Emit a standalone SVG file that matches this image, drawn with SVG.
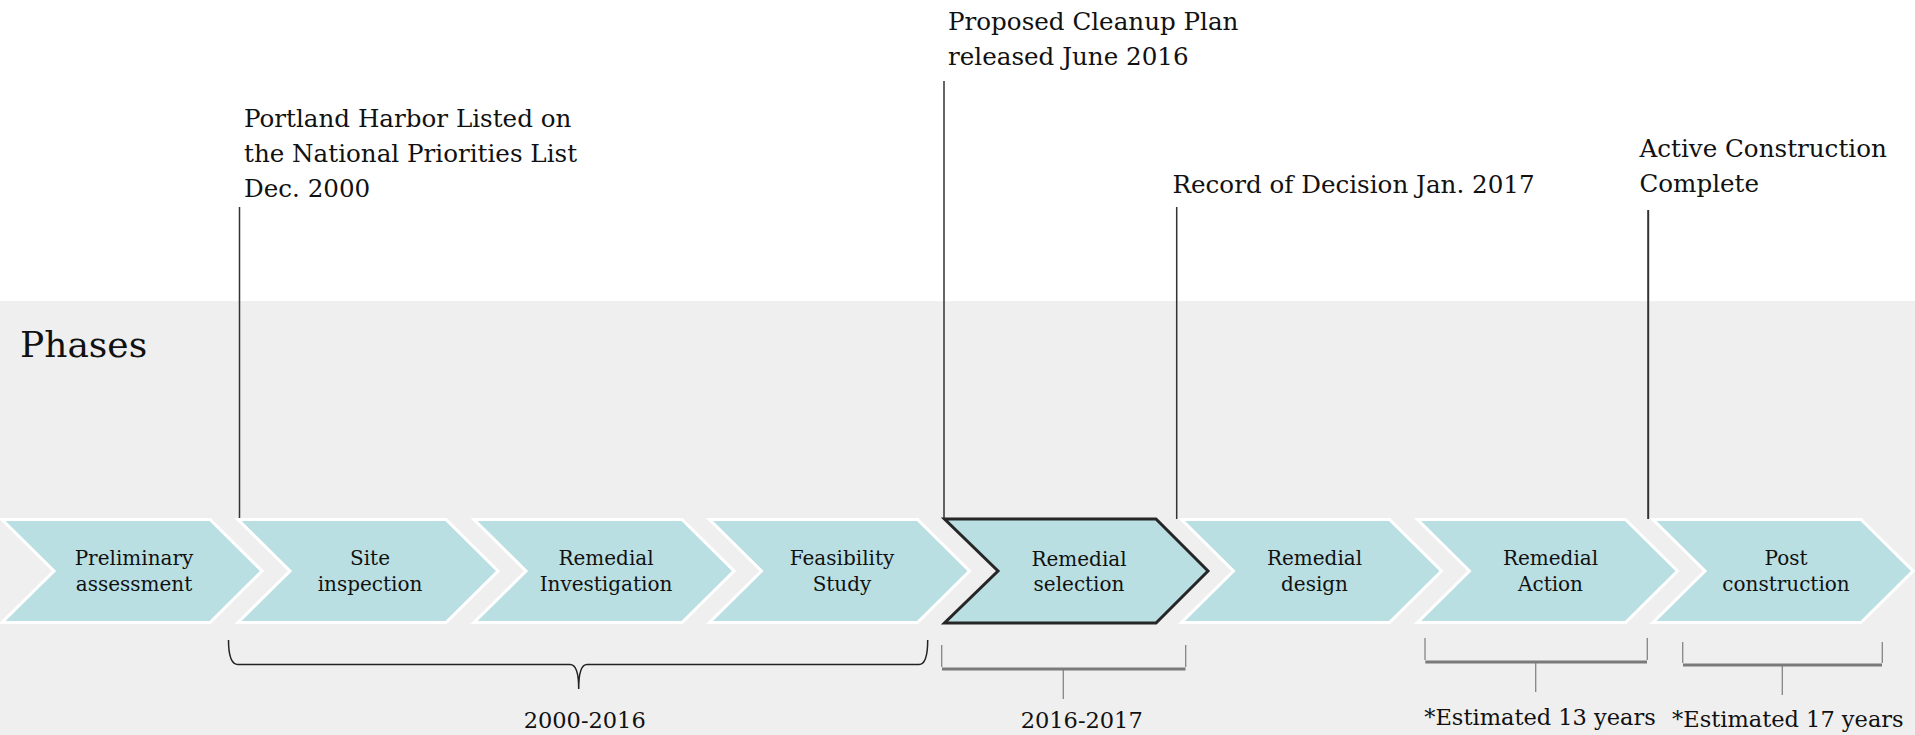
<svg xmlns="http://www.w3.org/2000/svg" width="1915" height="735" viewBox="0 0 1915 735">
<style>
.lbl{font-family:"DejaVu Serif","Liberation Serif",serif;fill:#111;}
.top{font-size:24.6px;}
.chev{fill:#b9dfe2;stroke:#ffffff;stroke-width:3;stroke-linejoin:miter;}
.sel{fill:#b9dfe2;stroke:#262626;stroke-width:3;stroke-linejoin:miter;}
.ct{font-size:20px;text-anchor:middle;}
.bt{font-size:22.5px;text-anchor:middle;}
.mark{stroke:#333;stroke-width:1.5;fill:none;}
.brace{stroke:#222;stroke-width:1.5;fill:none;}
.gb{stroke:#858585;stroke-width:1.3;fill:none;}
.gbh{stroke:#7a7a7a;stroke-width:3;fill:none;}
</style>
<rect x="0" y="0" width="1915" height="735" fill="#ffffff"/>
<rect x="0" y="301" width="1915" height="434" fill="#efefef"/>
<text class="lbl" x="20" y="357" font-size="36">Phases</text>

<g id="connectors">
<line class="mark" x1="239.5" y1="207" x2="239.5" y2="519"/>
<line class="mark" x1="944" y1="81" x2="944" y2="519"/>
<line class="mark" x1="1176.7" y1="207" x2="1176.7" y2="519"/>
<line class="mark" x1="1648.2" y1="210" x2="1648.2" y2="519" style="stroke-width:2"/>
<path class="brace" d="M228.5,640 Q228.5,664.5 238,664.5 L570,664.5 Q578.7,664.5 578.7,689 Q578.7,664.5 587,664.5 L919,664.5 Q927.7,664.5 927.7,640"/>
<path class="gb" d="M941.7,645 L941.7,667 M1185.7,645 L1185.7,667 M1063.3,670 L1063.3,699"/>
<line class="gbh" x1="942" y1="669" x2="1185.5" y2="669"/>
<path class="gb" d="M1425,638 L1425,660 M1647.3,638 L1647.3,660 M1535.7,663 L1535.7,692"/>
<line class="gbh" x1="1425.3" y1="662" x2="1647" y2="662"/>
<path class="gb" d="M1682.7,642 L1682.7,663 M1882.3,642 L1882.3,663 M1782.3,666 L1782.3,695"/>
<line class="gbh" x1="1683" y1="665" x2="1882" y2="665"/>
</g>

<g id="label-npl">
<text class="lbl top" x="244" y="127">Portland Harbor Listed on</text>
<text class="lbl top" x="244" y="162">the National Priorities List</text>
<text class="lbl top" x="244" y="197">Dec. 2000</text>
</g>
<g id="label-proposed">
<text class="lbl top" x="948" y="29.5">Proposed Cleanup Plan</text>
<text class="lbl top" x="948" y="64.5">released June 2016</text>
</g>
<g id="label-rod">
<text class="lbl top" x="1172.5" y="192.5">Record of Decision Jan. 2017</text>
</g>
<g id="label-active">
<text class="lbl top" x="1639.5" y="157">Active Construction</text>
<text class="lbl top" x="1639.5" y="192">Complete</text>
</g>

<g id="phase-1"><path class="chev" d="M2,519.5 L210,519.5 L262,571 L210,622.5 L2,622.5 L54,571 Z"/>
<text class="lbl ct" x="134" y="565">Preliminary</text><text class="lbl ct" x="134" y="590.5">assessment</text></g>
<g id="phase-2"><path class="chev" d="M238,519.5 L446,519.5 L498,571 L446,622.5 L238,622.5 L290,571 Z"/>
<text class="lbl ct" x="370" y="565">Site</text><text class="lbl ct" x="370" y="590.5">inspection</text></g>
<g id="phase-3"><path class="chev" d="M474,519.5 L682,519.5 L734,571 L682,622.5 L474,622.5 L526,571 Z"/>
<text class="lbl ct" x="606" y="565">Remedial</text><text class="lbl ct" x="606" y="590.5">Investigation</text></g>
<g id="phase-4"><path class="chev" d="M709.5,519.5 L917.5,519.5 L969.5,571 L917.5,622.5 L709.5,622.5 L761.5,571 Z"/>
<text class="lbl ct" x="842" y="565">Feasibility</text><text class="lbl ct" x="842" y="590.5">Study</text></g>
<g id="phase-5"><path class="sel" d="M944.5,519 L1156,519 L1208,571 L1156,623 L944.5,623 L998,571 Z"/>
<text class="lbl ct" x="1079" y="565.5">Remedial</text><text class="lbl ct" x="1079" y="591">selection</text></g>
<g id="phase-6"><path class="chev" d="M1181.5,519.5 L1389.5,519.5 L1441.5,571 L1389.5,622.5 L1181.5,622.5 L1233.5,571 Z"/>
<text class="lbl ct" x="1314.5" y="565">Remedial</text><text class="lbl ct" x="1314.5" y="590.5">design</text></g>
<g id="phase-7"><path class="chev" d="M1417.5,519.5 L1625.5,519.5 L1677.5,571 L1625.5,622.5 L1417.5,622.5 L1469.5,571 Z"/>
<text class="lbl ct" x="1550.5" y="565">Remedial</text><text class="lbl ct" x="1550.5" y="590.5">Action</text></g>
<g id="phase-8"><path class="chev" d="M1653,519.5 L1861,519.5 L1913,571 L1861,622.5 L1653,622.5 L1705,571 Z"/>
<text class="lbl ct" x="1786" y="565">Post</text><text class="lbl ct" x="1786" y="590.5">construction</text></g>

<g id="span-labels">
<text class="lbl bt" x="584.7" y="728" font-size="23">2000-2016</text>
<text class="lbl bt" x="1081.7" y="727.5" font-size="23">2016-2017</text>
<text class="lbl bt" x="1540" y="725">*Estimated 13 years</text>
<text class="lbl bt" x="1787.8" y="727">*Estimated 17 years</text>
</g>
</svg>
